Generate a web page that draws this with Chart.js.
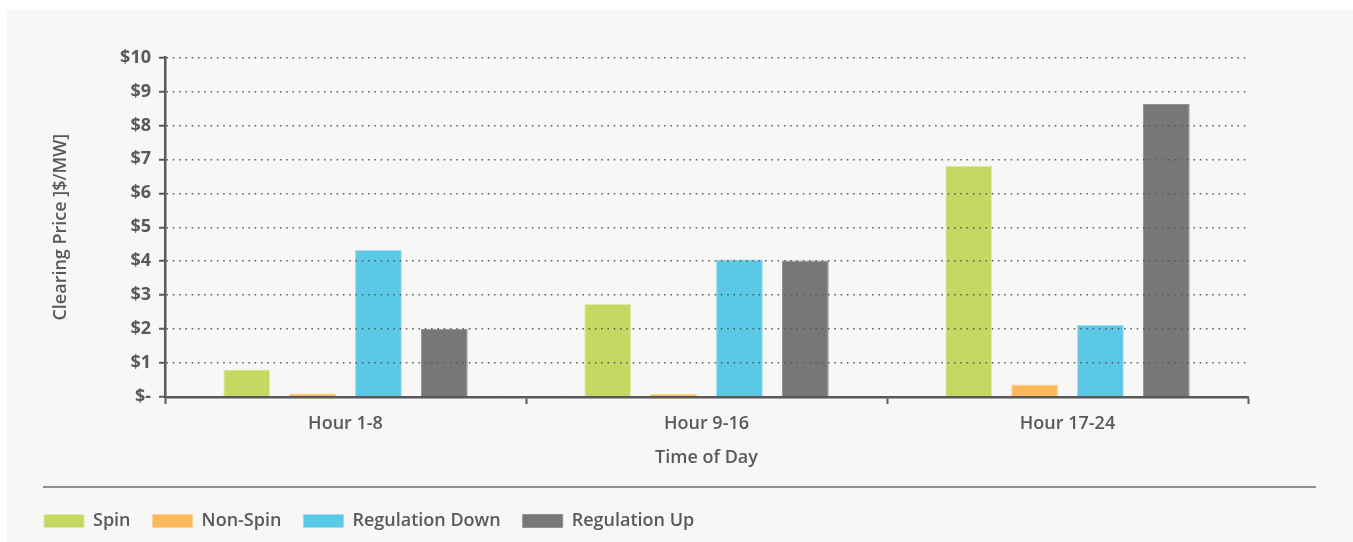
<!DOCTYPE html>
<html>
<head>
<meta charset="utf-8">
<script src="https://cdn.jsdelivr.net/npm/chart.js@4/dist/chart.umd.min.js"></script>
<style>
  html, body { margin: 0; padding: 0; background: #ffffff; overflow: hidden; }
  .panel {
    position: absolute; left: 7px; top: 10px; width: 1346px; height: 532px;
    background: #f7f7f5; overflow: hidden;
  }
  .chart-box { position: relative; width: 1346px; height: 530px; }
</style>
</head>
<body>
<div class="panel">
  <div class="chart-box"><canvas id="priceChart"></canvas></div>
</div>
<script>
// Data
const categories = ['Hour 1-8', 'Hour 9-16', 'Hour 17-24'];
const spin = [0.81, 2.74, 6.81];
const nonSpin = [0.1, 0.09, 0.37];
const regulationDown = [4.33, 4.05, 2.12];
const regulationUp = [2.01, 4.02, 8.63];
const yTicks = [0, 1, 2, 3, 4, 5, 6, 7, 8, 9, 10];

const textColor = '#58595b';
const axisColor = '#58595b';
const fontFamily = '"Open Sans", "Liberation Sans", sans-serif';

// Thin line above the legend
const legendRule = {
    id: 'legendRule',
    afterDraw(chart) {
        const ctx = chart.ctx;
        const y = chart.legend.top - 3;
        ctx.save();
        ctx.strokeStyle = '#6d6e70';
        ctx.lineWidth = 1.5;
        ctx.beginPath();
        ctx.moveTo(36, y);
        ctx.lineTo(chart.width - 37, y);
        ctx.stroke();
        ctx.restore();
    }
};

const ctx = document.getElementById('priceChart').getContext('2d');

new Chart(ctx, {
    type: 'bar',
    data: {
        labels: categories,
        datasets: [
            { label: 'Spin', data: spin, backgroundColor: '#c4d962', borderColor: '#dfe9a8' },
            { label: 'Non-Spin', data: nonSpin, backgroundColor: '#fab95b', borderColor: '#fbd39a' },
            { label: 'Regulation Down', data: regulationDown, backgroundColor: '#5bc8e5', borderColor: '#9edcee' },
            { label: 'Regulation Up', data: regulationUp, backgroundColor: '#767877', borderColor: '#8f9190' }
        ].map(ds => Object.assign(ds, {
            borderWidth: 1,
            categoryPercentage: 0.73,
            barPercentage: 0.71
        }))
    },
    options: {
        responsive: true,
        maintainAspectRatio: false,
        animation: false,
        layout: {
            padding: { left: 15, right: 105, top: 47.5, bottom: 0 }
        },
        scales: {
            x: {
                grid: {
                    drawOnChartArea: false,
                    tickLength: 7,
                    tickWidth: 2,
                    tickColor: axisColor,
                    offset: true
                },
                border: { color: axisColor, width: 2.5, z: 1 },
                ticks: {
                    color: textColor,
                    padding: 9,
                    font: { family: fontFamily, size: 18, weight: '600' }
                },
                title: {
                    display: true,
                    text: 'Time of Day',
                    color: textColor,
                    padding: { top: 0, bottom: 21 },
                    font: { family: fontFamily, size: 18, weight: '600' }
                },
                afterFit(scale) { scale.height = 93; }
            },
            y: {
                min: 0,
                max: 10,
                afterBuildTicks(scale) {
                    scale.ticks = yTicks.map(v => ({ value: v }));
                },
                grid: {
                    color: '#58595b',
                    lineWidth: 1.5,
                    tickLength: 6,
                    tickWidth: 2,
                    tickColor: axisColor,
                    tickBorderDash: [],
                    z: 1
                },
                border: { color: axisColor, width: 2.5, dash: [1.5, 4.8], z: 1 },
                ticks: {
                    color: textColor,
                    padding: 8,
                    font: { family: fontFamily, size: 18, weight: 'bold' },
                    callback: v => v === 0 ? '$-' : '$' + v
                },
                title: {
                    display: true,
                    text: 'Clearing Price ]$/MW]',
                    color: textColor,
                    padding: { top: 28, bottom: 0 },
                    font: { family: fontFamily, size: 18, weight: '600' }
                },
                afterFit(scale) { scale.width = 143; }
            }
        },
        plugins: {
            legend: {
                position: 'bottom',
                align: 'start',
                labels: {
                    boxWidth: 40,
                    boxHeight: 13,
                    padding: 22,
                    color: textColor,
                    font: { family: fontFamily, size: 18, weight: '600' }
                }
            },
            tooltip: { enabled: false }
        }
    },
    plugins: [legendRule]
});
</script>
</body>
</html>
